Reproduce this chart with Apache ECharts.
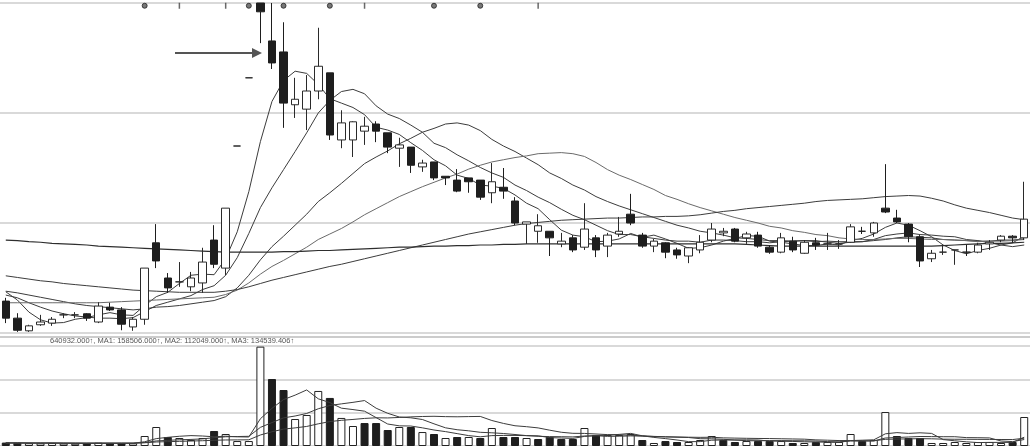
<!DOCTYPE html>
<html><head><meta charset="utf-8">
<script src="https://cdn.jsdelivr.net/npm/echarts@6/dist/echarts.min.js"></script>
<style>html,body{margin:0;padding:0;background:#fff}#c{width:1030px;height:446px}</style>
</head><body><div id="c"></div>
<script>
const categories = ['1','2','3','4','5','6','7','8','9','10','11','12','13','14','15','16','17','18','19','20','21','22','23','24','25','26','27','28','29','30','31','32','33','34','35','36','37','38','39','40','41','42','43','44','45','46','47','48','49','50','51','52','53','54','55','56','57','58','59','60','61','62','63','64','65','66','67','68','69','70','71','72','73','74','75','76','77','78','79','80','81','82','83','84','85','86','87','88','89'];

// [open, close, low, high]
const kline = [
[9.58,9.27,9.18,9.64],[9.27,9.05,9.02,9.36],[9.04,9.13,9.02,9.15],[9.15,9.20,9.13,9.33],[9.18,9.25,9.13,9.29],
[9.33,9.33,9.27,9.36],[9.33,9.33,9.27,9.38],[9.35,9.27,9.22,9.36],[9.20,9.49,9.18,9.56],[9.47,9.42,9.40,9.55],
[9.42,9.16,9.05,9.47],[9.11,9.25,9.04,9.29],[9.25,10.18,9.15,10.18],[10.64,10.31,10.18,10.98],[10.00,9.82,9.73,10.09],
[9.93,9.93,9.84,10.29],[9.84,10.00,9.76,10.11],[9.91,10.29,9.73,10.55],[10.69,10.25,10.18,10.96],[10.18,11.27,10.05,11.27],
[12.40,12.40,12.40,12.40],[13.64,13.64,13.64,13.64],[15.00,14.84,14.27,15.00],[14.31,13.91,13.80,15.00],[14.11,13.18,12.73,14.65],
[13.15,13.25,12.91,13.64],[13.07,13.40,12.69,13.69],[13.40,13.85,13.25,14.55],[13.73,12.60,12.51,13.73],[12.51,12.82,12.36,13.05],
[12.51,12.84,12.20,12.85],[12.67,12.76,12.42,12.93],[12.80,12.67,12.47,12.85],[12.64,12.38,12.27,12.64],[12.36,12.42,12.02,12.55],
[12.38,12.05,11.91,12.38],[12.02,12.09,11.93,12.15],[12.11,11.82,11.78,12.11],[11.85,11.82,11.69,11.85],[11.78,11.58,11.56,11.98],
[11.82,11.75,11.55,11.82],[11.78,11.47,11.42,11.78],[11.55,11.75,11.36,12.09],[11.65,11.58,11.44,12.00],[11.40,11.00,10.96,11.47],
[10.98,11.02,10.62,11.02],[10.85,10.95,10.64,11.16],[10.85,10.73,10.40,10.85],[10.62,10.67,10.56,10.82],[10.73,10.51,10.47,10.78],
[10.56,10.89,10.51,11.36],[10.73,10.51,10.38,10.78],[10.58,10.78,10.38,10.82],[10.80,10.85,10.75,11.11],[11.16,11.00,10.96,11.53],
[10.78,10.58,10.55,10.82],[10.58,10.67,10.47,10.71],[10.64,10.47,10.36,10.65],[10.51,10.42,10.35,10.55],[10.40,10.55,10.27,10.56],
[10.51,10.65,10.45,10.78],[10.69,10.89,10.65,11.00],[10.82,10.85,10.76,10.91],[10.89,10.67,10.65,10.91],[10.73,10.80,10.62,10.84],
[10.78,10.58,10.55,10.84],[10.56,10.47,10.44,10.60],[10.47,10.73,10.45,10.82],[10.67,10.51,10.47,10.75],[10.45,10.65,10.44,10.69],
[10.64,10.60,10.51,10.73],[10.62,10.62,10.51,10.82],[10.62,10.62,10.53,10.69],[10.65,10.93,10.64,10.98],[10.85,10.85,10.80,10.93],
[10.82,11.00,10.75,11.02],[11.27,11.20,11.18,12.07],[11.09,11.02,11.00,11.24],[10.98,10.75,10.65,11.00],[10.75,10.31,10.20,10.78],
[10.35,10.45,10.29,10.51],[10.47,10.47,10.42,10.60],[10.51,10.51,10.24,10.51],[10.47,10.47,10.40,10.60],[10.47,10.60,10.45,10.64],
[10.62,10.65,10.51,10.69],[10.69,10.76,10.65,10.78],[10.76,10.73,10.64,10.78],[10.73,11.07,10.69,11.75]
];

const ma5 = [9.75,9.60,9.38,9.24,9.18,9.19,9.25,9.28,9.33,9.37,9.33,9.32,9.50,9.66,9.74,9.90,10.05,10.07,10.06,10.35,
10.84,11.57,12.48,13.21,13.59,13.76,13.72,13.52,13.26,13.18,13.10,12.97,12.74,12.69,12.61,12.46,12.32,12.15,12.04,11.87,
11.81,11.69,11.67,11.63,11.51,11.36,11.26,11.06,10.87,10.78,10.75,10.66,10.67,10.71,10.81,10.74,10.78,10.71,10.63,10.54,
10.55,10.60,10.67,10.72,10.77,10.76,10.67,10.65,10.62,10.59,10.59,10.62,10.60,10.68,10.72,10.80,10.92,11.00,10.96,10.86,
10.75,10.60,10.50,10.44,10.50,10.54,10.60,10.64,10.76];
const ma10 = [9.69,9.64,9.55,9.47,9.40,9.35,9.31,9.29,9.27,9.27,9.26,9.28,9.39,9.50,9.56,9.62,9.68,9.79,9.86,10.05,
10.37,10.81,11.28,11.64,11.97,12.30,12.64,13.00,13.23,13.39,13.43,13.35,13.13,12.98,12.90,12.78,12.65,12.45,12.37,12.24,
12.13,12.01,11.91,11.83,11.69,11.59,11.47,11.37,11.25,11.14,11.06,10.96,10.86,10.79,10.79,10.75,10.72,10.69,10.67,10.67,
10.65,10.69,10.69,10.68,10.66,10.66,10.64,10.66,10.67,10.68,10.68,10.65,10.63,10.65,10.66,10.70,10.77,10.80,10.82,10.79,
10.78,10.76,10.75,10.70,10.68,10.64,10.60,10.57,10.60];
const ma20 = [9.76,9.73,9.69,9.65,9.61,9.57,9.53,9.50,9.48,9.46,9.44,9.42,9.44,9.47,9.48,9.50,9.53,9.56,9.59,9.66,
9.82,10.05,10.33,10.57,10.76,10.96,11.16,11.39,11.55,11.72,11.90,12.08,12.20,12.31,12.44,12.54,12.65,12.72,12.80,12.82,
12.78,12.68,12.52,12.40,12.30,12.18,12.06,11.91,11.81,11.69,11.60,11.48,11.39,11.31,11.24,11.17,11.10,11.03,10.96,10.91,
10.85,10.82,10.78,10.73,10.72,10.70,10.68,10.68,10.67,10.68,10.66,10.67,10.66,10.66,10.66,10.68,10.70,10.73,10.75,10.74,
10.73,10.70,10.69,10.68,10.67,10.67,10.69,10.69,10.71];
const ma30 = [9.55,9.55,9.55,9.55,9.55,9.55,9.55,9.55,9.55,9.56,9.57,9.58,9.59,9.60,9.61,9.62,9.63,9.64,9.65,9.70,
9.78,9.91,10.07,10.21,10.32,10.44,10.56,10.70,10.80,10.90,11.02,11.15,11.26,11.37,11.48,11.57,11.66,11.74,11.82,11.89,
11.98,12.05,12.11,12.15,12.19,12.22,12.26,12.27,12.28,12.26,12.21,12.10,11.97,11.87,11.79,11.70,11.61,11.50,11.43,11.35,
11.28,11.22,11.16,11.10,11.05,11.00,10.94,10.91,10.86,10.83,10.79,10.77,10.73,10.71,10.70,10.70,10.71,10.72,10.72,10.71,
10.70,10.70,10.69,10.68,10.66,10.67,10.67,10.68,10.70];
const ma60 = [10.04,10.01,9.98,9.95,9.93,9.90,9.88,9.86,9.84,9.82,9.80,9.78,9.77,9.76,9.75,9.74,9.74,9.74,9.74,9.76,
9.79,9.84,9.90,9.96,10.01,10.06,10.11,10.16,10.21,10.25,10.30,10.35,10.40,10.45,10.50,10.55,10.60,10.65,10.70,10.75,
10.80,10.84,10.88,10.92,10.96,10.99,11.01,11.03,11.05,11.06,11.07,11.08,11.09,11.09,11.10,11.11,11.11,11.12,11.12,11.13,
11.15,11.18,11.21,11.23,11.26,11.28,11.30,11.32,11.34,11.36,11.39,11.41,11.42,11.43,11.44,11.46,11.48,11.49,11.50,11.49,
11.45,11.40,11.33,11.27,11.23,11.19,11.14,11.09,11.06];
const ma120 = [10.69,10.68,10.66,10.65,10.63,10.62,10.61,10.60,10.58,10.57,10.56,10.55,10.54,10.53,10.52,10.51,10.50,10.49,10.48,10.47,
10.47,10.47,10.47,10.47,10.48,10.48,10.49,10.50,10.50,10.51,10.52,10.53,10.54,10.55,10.56,10.56,10.57,10.58,10.58,10.59,
10.59,10.60,10.60,10.61,10.61,10.62,10.62,10.62,10.62,10.62,10.62,10.62,10.62,10.62,10.62,10.62,10.62,10.62,10.62,10.62,
10.62,10.62,10.62,10.62,10.61,10.60,10.59,10.58,10.58,10.58,10.58,10.58,10.58,10.58,10.58,10.58,10.58,10.58,10.58,10.58,
10.58,10.59,10.60,10.61,10.62,10.63,10.63,10.64,10.65];

const volume = [22000,20000,18000,17000,19000,16000,15000,17000,21000,16000,
18000,17000,64500,122500,58000,51600,38700,51600,96800,77400,
32000,32000,640932,432000,361000,174000,200000,355000,310000,181000,
129000,148000,148000,103000,122500,122500,90000,77400,51600,58000,
58000,51600,116000,58000,58000,51600,45000,58000,45000,45000,
116000,71000,71000,71000,77400,38700,19400,32000,25800,25800,
38700,64500,38700,25800,32000,32000,32000,32000,19400,19400,
25800,25800,25800,77400,32000,38700,219000,64500,51600,51600,
19400,19400,25800,19400,25800,25800,19400,25800,187000];
const volUp = [0,0,1,1,1,1,1,0,1,0, 0,1,1,1,0,1,1,1,0,1, 1,1,1,0,0,1,1,1,0,1, 1,0,0,0,1,0,1,0,1,0,
1,0,1,0,0,1,0,0,0,0, 1,0,1,1,1,0,1,0,0,1, 1,1,0,0,1,0,0,1,0,1, 0,1,1,1,0,1,1,0,0,0, 1,1,1,1,1,1,1,0,1];
const volMa1 = [20000,20000,19000,19000,19200,18000,17000,16800,17600,17000,17400,17800,27300,47600,56000,62700,67100,64500,59300,63200,
59300,58000,175800,242900,299600,328000,361600,304400,280000,244000,235000,224600,183200,141800,130100,128800,117200,103100,92800,79900,
67000,59300,67000,68300,68300,67000,65700,54100,51500,48900,61800,67000,69600,74800,81300,65800,55500,47700,38700,28300,
28300,37400,38700,38700,39900,38600,32100,30800,29500,27000,25700,24500,23200,34800,37400,39900,78600,86300,81200,85100,
81200,41300,33600,27100,22000,23200,23200,23200,56800];
const volMa2 = [20000,20000,19500,19000,19000,18500,18500,18000,18000,18100,17700,17400,22100,32600,36500,40100,42400,45900,53500,59600,
61000,62500,120200,151100,181400,193600,209800,240100,261400,271800,281500,293100,243800,210900,187100,181900,170900,143100,117300,105000,
97900,88300,85100,80600,74100,67000,62500,60600,59900,58600,64400,66400,61900,63200,65100,63800,61300,58700,56700,54800,
47100,46400,43200,38700,34100,33500,34700,34700,34100,33500,32200,28300,27000,32200,32200,32800,51500,54800,58000,61200,
60600,59900,59900,54100,53500,52200,32300,28400,41900];
const volMa3 = [19000,19000,19000,19000,19000,19000,19000,19000,19000,19000,19000,19000,21000,26000,28000,30000,32000,34000,37000,38900,
39400,40000,71100,91900,109000,116900,126100,143000,157500,165700,171300,177800,182000,181000,184200,187800,190300,191600,189400,188400,
189700,190700,164400,145700,130600,124500,116700,101900,88600,81800,81200,77300,73500,71900,69600,65400,61900,59600,58300,56700,
55800,56400,52500,50900,49600,48600,48000,46700,45400,44100,39600,37400,35100,35400,33200,33200,43100,44800,46000,47300,
46400,44100,43500,43200,42800,42500,41900,41600,50000];

const infoMarks = [12, 21, 24, 28, 37, 41];
const tickMarks = [15, 19, 31, 46];
const volLabel = '640932.000\u2191, MA1: 158506.000\u2191, MA2: 112049.000\u2191, MA3: 134539.406\u2191';

const chart = echarts.init(document.getElementById('c'), null, {renderer: 'canvas'});
const GRID_COLOR = '#cccccc';
const LINE_COLOR = '#3c3c3c';
function maLine(data, xi, yi, color, w) {
  return {type: 'line', data: data, xAxisIndex: xi, yAxisIndex: yi, symbol: 'none', silent: true,
    lineStyle: {color: color || LINE_COLOR, width: w || 1}, z: 3};
}
const volData = volume.map((v, i) => ({
  value: v,
  itemStyle: volUp[i] ? {color: '#ffffff', borderColor: '#222', borderWidth: 1} : {color: '#1e1e1e', borderColor: '#1e1e1e', borderWidth: 1}
}));

chart.setOption({
  animation: false,
  backgroundColor: '#ffffff',
  grid: [
    {left: -1, width: 1033, top: 3, height: 330},
    {left: -1, width: 1033, top: 346, height: 100}
  ],
  xAxis: [
    {type: 'category', data: categories, gridIndex: 0, boundaryGap: true,
     axisLine: {show: false}, axisTick: {show: false}, axisLabel: {show: false}, splitLine: {show: false}},
    {type: 'category', data: categories, gridIndex: 1, boundaryGap: true,
     axisLine: {show: false}, axisTick: {show: false}, axisLabel: {show: false}, splitLine: {show: false}}
  ],
  yAxis: [
    {type: 'value', gridIndex: 0, min: 9, max: 15, interval: 2,
     axisLine: {show: false}, axisTick: {show: false}, axisLabel: {show: false},
     splitLine: {show: true, lineStyle: {color: GRID_COLOR, width: 1.5}}},
    {type: 'value', gridIndex: 1, min: 0, max: 645000, interval: 215000,
     axisLine: {show: false}, axisTick: {show: false}, axisLabel: {show: false},
     splitLine: {show: true, lineStyle: {color: GRID_COLOR, width: 1.5}}}
  ],
  series: [
    {type: 'candlestick', data: kline, xAxisIndex: 0, yAxisIndex: 0, barWidth: 8, z: 4,
     itemStyle: {color: '#ffffff', color0: '#1e1e1e', borderColor: '#2a2a2a', borderColor0: '#1e1e1e', borderWidth: 1}},
    maLine(ma5, 0, 0), maLine(ma10, 0, 0), maLine(ma20, 0, 0), maLine(ma30, 0, 0, '#6a6a6a'),
    maLine(ma60, 0, 0), maLine(ma120, 0, 0, '#2e2e2e', 1.2),
    {type: 'scatter', xAxisIndex: 0, yAxisIndex: 0, data: infoMarks.map(i => [i, 14.95]),
     symbol: 'circle', symbolSize: 5, itemStyle: {color: '#555', borderColor: '#222', borderWidth: 1}, z: 6, silent: true},
    {type: 'scatter', xAxisIndex: 0, yAxisIndex: 0, data: tickMarks.map(i => [i, 14.95]),
     symbol: 'rect', symbolSize: [1.5, 6], itemStyle: {color: '#444'}, z: 6, silent: true},
    {type: 'bar', data: volData, xAxisIndex: 1, yAxisIndex: 1, barWidth: 8, z: 2},
    maLine(volMa1, 1, 1), maLine(volMa2, 1, 1), maLine(volMa3, 1, 1)
  ],
  graphic: [
    {type: 'line', shape: {x1: 0, y1: 337, x2: 1030, y2: 337}, style: {stroke: '#9a9a9a', lineWidth: 1.2}, silent: true},
    {type: 'text', left: 50, top: 337, style: {text: volLabel, font: '7.5px "Liberation Sans", sans-serif', fill: '#555'}, silent: true},
    {type: 'line', shape: {x1: 175, y1: 53, x2: 254, y2: 53}, style: {stroke: '#555', lineWidth: 2}, silent: true},
    {type: 'polygon', shape: {points: [[252, 48], [262, 53], [252, 58]]}, style: {fill: '#555'}, silent: true}
  ]
});
</script></body></html>
